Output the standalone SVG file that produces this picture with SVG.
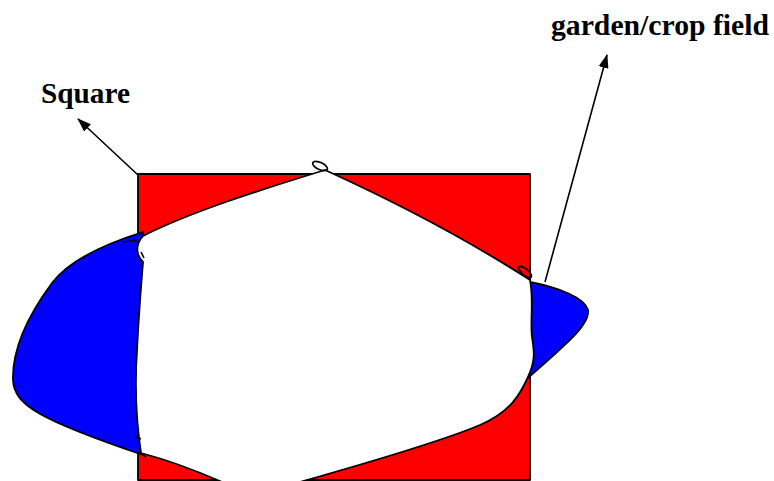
<svg xmlns="http://www.w3.org/2000/svg" width="774" height="481" viewBox="0 0 774 481">
<style>
.ln{fill:none;stroke:#000;stroke-width:1.6}
.sh{stroke:#000;stroke-width:1.8;stroke-linejoin:round}
.lbl{font-family:"Liberation Serif","Times New Roman",serif;font-weight:bold;font-size:29px;fill:#000}
</style>
<defs>
<marker id="ah" viewBox="0 0 14 10" refX="13" refY="5" markerWidth="14" markerHeight="10" markerUnits="userSpaceOnUse" orient="auto">
<path d="M0,0 L14,5 L0,10 Z" fill="#000"/>
</marker>
</defs>
<g id="square">
<rect x="138" y="174" width="392" height="306" fill="#ff0000" class="sh"/>
</g>
<g id="garden">
<path class="sh" fill="#0000ff" d="M143,232 C98,246 68,262 52,283 C32,310 12,345 13,380 C14,405 40,420 143,455 Z"/>
<path class="sh" fill="#0000ff" d="M530,282 C560,288 585,298 588,310 C590,325 565,345 528,378 Z"/>
<path class="sh" fill="#ffffff" d="M143,236 C190,212 260,190 325,170 C380,195 460,235 530,280 C534,300 530,320 532,337 C534,350 536,360 528,377 C520,395 510,412 480,425 C440,442 360,465 300,482 L290,492 L225,492 L222,482 C190,468 160,458 141,453 C136,420 135,380 137,350 C139,310 142,275 143,262 C136,255 135,245 143,236 Z"/>
<ellipse cx="320" cy="166" rx="8" ry="3.5" transform="rotate(25 320 166)" fill="#fff" class="ln"/>
<ellipse cx="525" cy="272" rx="8" ry="3" transform="rotate(40 525 272)" fill="#fff" class="ln"/>
<path class="ln" d="M123,242 L138,240 M141,252 L144,258 M135,436 L141,439 M138,452 L146,457"/>
</g>
<g id="connectors">
<line x1="138" y1="175" x2="78" y2="119" class="ln" marker-end="url(#ah)"/>
<line x1="545" y1="282" x2="607" y2="55" class="ln" marker-end="url(#ah)"/>
</g>
<g id="labels">
<text x="41" y="103" class="lbl" textLength="89" lengthAdjust="spacingAndGlyphs">Square</text>
<text x="551" y="35" class="lbl" textLength="218" lengthAdjust="spacingAndGlyphs">garden/crop field</text>
</g>
</svg>
